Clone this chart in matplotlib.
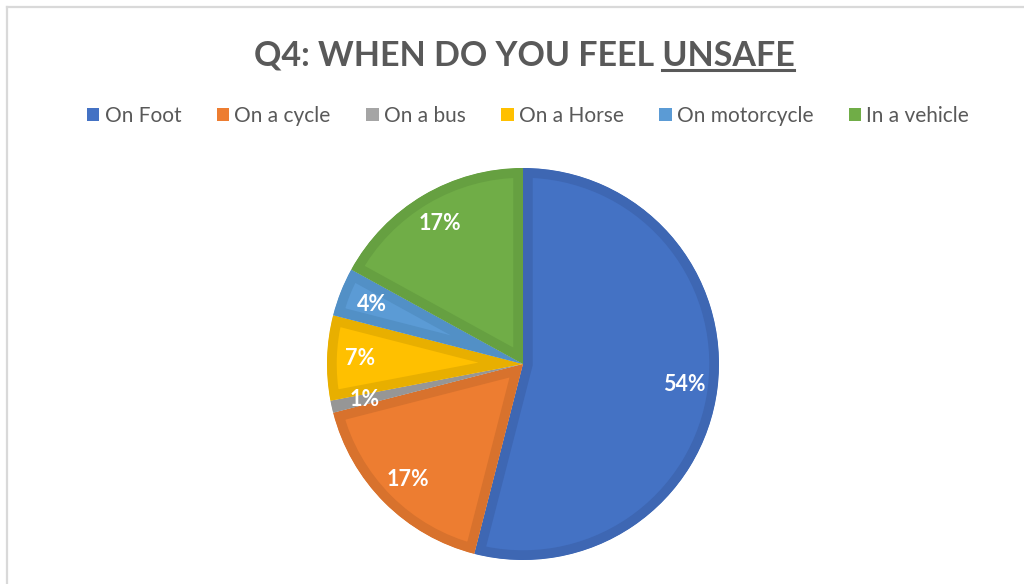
import matplotlib.pyplot as plt
from matplotlib.patches import Patch
from matplotlib.lines import Line2D

# data
categories = ["On Foot", "On a cycle", "On a bus", "On a Horse", "On motorcycle", "In a vehicle"]
shares = [54, 17, 1, 7, 4, 17]
fill_colors = ["#4472C4", "#ED7D31", "#A5A5A5", "#FFC000", "#5B9BD5", "#70AD47"]
edge_colors = ["#3E67B3", "#D8722D", "#969696", "#E8AF00", "#5290C6", "#66A041"]

plt.rcParams["font.family"] = ["Lato", "DejaVu Sans"]

fig = plt.figure(figsize=(10.24, 5.84), dpi=100)

# chart frame (light gray, only top and left visible)
fig.add_artist(Line2D([7 / 1024, 1.0], [1 - 7 / 584, 1 - 7 / 584], color="#D9D9D9", lw=1.6))
fig.add_artist(Line2D([7 / 1024, 7 / 1024], [0.0, 1 - 7 / 584], color="#D9D9D9", lw=1.6))

# pie axes, square box centred at (523, 364) px with radius 196 px
ax = fig.add_axes([(523 - 196) / 1024, (584 - 364 - 196) / 584, 392 / 1024, 392 / 584])
wedges, texts, autotexts = ax.pie(
    shares,
    colors=fill_colors,
    startangle=90,
    counterclock=False,
    autopct="%d%%",
    pctdistance=0.83,
    wedgeprops=dict(linewidth=14, antialiased=True),
    textprops=dict(color="white", fontsize=15.5, fontweight="bold"),
)
ax.set_xlim(-1, 1)
ax.set_ylim(-1, 1)
ax.axis("off")
for w, ec in zip(wedges, edge_colors):
    w.set_edgecolor(ec)
    # keep the border inside each slice
    w.set_clip_on(True)
    w.set_clip_path(w)

# title with underlined last word
title_y = 1 - 65 / 584
t_main = fig.text(524 / 1024, title_y, "Q4: WHEN DO YOU FEEL UNSAFE", ha="center", va="baseline",
                  fontsize=24.5, fontweight="bold", color="#595959")
fig.canvas.draw()
r = fig.canvas.get_renderer()
bb = t_main.get_window_extent(r)
t_tmp = fig.text(0, 0, "UNSAFE", fontsize=24.5, fontweight="bold")
w_word = t_tmp.get_window_extent(r).width
t_tmp.remove()
x1 = bb.x1 / 1024
x0 = (bb.x1 - w_word) / 1024
uy = 1 - 70 / 584
fig.add_artist(Line2D([x0, x1], [uy, uy], color="#595959", lw=2.2))

# legend
handles = [Patch(facecolor=c, edgecolor="none") for c in fill_colors]
fig.legend(handles, categories, loc="center", bbox_to_anchor=(528 / 1024, 1 - 116 / 584),
           ncol=6, frameon=False, fontsize=15, labelcolor="#595959",
           handlelength=0.6, handleheight=0.6, handletextpad=0.25, columnspacing=1.7)

plt.savefig("out.png", dpi=100)
